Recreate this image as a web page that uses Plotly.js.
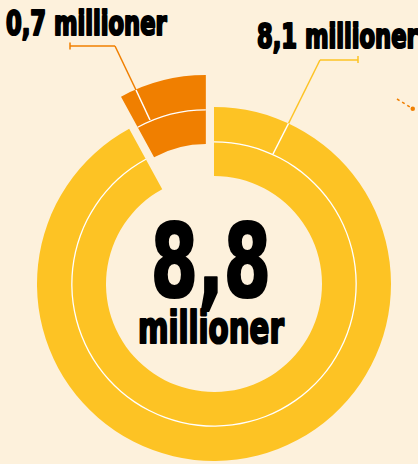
<!DOCTYPE html>
<html>
<head>
<meta charset="utf-8">
<script src="https://cdn.plot.ly/plotly-3.0.1.min.js"></script>
<style>
  html, body { margin: 0; padding: 0; overflow: hidden; background: #fdf1dc; width: 418px; height: 464px; }
  #chart { width: 430px; height: 500px; }
  .annotation-text {
    stroke: #000; stroke-width: 2.2px; stroke-linejoin: round; paint-order: stroke;
    transform-box: fill-box; transform-origin: 50% 50%; transform: scaleX(0.74);
  }
</style>
</head>
<body>
<div id="chart"></div>
<script>
// ---- data ----
var categories = ["Øvrige", "Utvalgte"];
var values = [8.1, 0.7];
var valueLabels = ["8,1 millioner", "0,7 millioner"];
var totalValue = ["8,8"];
var totalUnit = ["millioner"];
var colors = ["#fdc324", "#f07f00"];

// ---- geometry (pixels in the page) ----
var W = 430, H = 500;
var cx = 214, cy = 284;
var rOuter = 177, rHole = 108, rSep = 142.8, sepW = 1.3;
var pullPx = 33;
var bg = "#fdf1dc";

function pie(r, holeFrac, pullAmt, cols, name) {
  var half = r * (1 + pullAmt);
  var yc = H - cy;
  return {
    type: "pie",
    name: name,
    labels: categories,
    values: values,
    sort: false,
    direction: "clockwise",
    rotation: 0,
    hole: holeFrac,
    pull: values.map(function (v, i) { return i === 1 ? pullAmt : 0; }),
    marker: { colors: cols, line: { width: 0 } },
    textinfo: "none",
    hoverinfo: "label+value",
    showlegend: false,
    domain: { x: [(cx - half) / W, (cx + half) / W], y: [(yc - half) / H, (yc + half) / H] }
  };
}

var traces = [
  pie(rOuter, rHole / rOuter, pullPx / rOuter, colors, "ring"),
  pie(rSep, (rSep - sepW) / rSep, pullPx / rSep, ["#ffffff", "#ffffff"], "sep")
];

function px(x) { return x / W; }
function py(y) { return 1 - y / H; }
function seg(x0, y0, x1, y1, col, w, dash) {
  return { type: "line", xref: "paper", yref: "paper", x0: px(x0), y0: py(y0), x1: px(x1), y1: py(y1),
           line: { color: col, width: w, dash: dash || "solid" }, layer: "above" };
}

// leader lines
var shapes = [
  // orange (0,7)
  seg(70, 42.5, 70, 49.5, colors[1], 1.5),
  seg(70, 46, 115, 46, colors[1], 1.5),
  seg(115, 46, 136, 90, colors[1], 1.5),
  seg(136, 90, 150, 120, "#ffffff", 1.5),
  // yellow (8,1)
  seg(358, 56, 358, 63, colors[0], 1.5),
  seg(358, 60, 320, 60, colors[0], 1.5),
  seg(320, 60, 288.5, 123.5, colors[0], 1.5),
  seg(288.5, 123.5, 273, 154, "#ffffff", 1.5),
  // small dotted mark at right edge
  seg(397, 99, 410, 107, colors[1], 1.5, "dot"),
  { type: "circle", xref: "paper", yref: "paper", x0: px(410.5), x1: px(415), y0: py(106.5), y1: py(111),
    fillcolor: colors[1], line: { width: 0 }, layer: "above" }
];

var fam = "'DejaVu Sans Condensed', 'DejaVu Sans', sans-serif";
function ann(text, x, y, size) {
  return { text: text, xref: "paper", yref: "paper", x: px(x), y: py(y), xanchor: "center", yanchor: "middle",
           showarrow: false, font: { family: fam, size: size, color: "#000", weight: 700 } };
}

var centerText = '<span style="font-size:102px">' + totalValue[0] + '</span><br>' +
                 '<span style="font-size:44px">' + totalUnit[0] + '</span>';

var annotations = [
  ann(valueLabels[1], 86.5, 22.5, 34),
  ann(valueLabels[0], 337.5, 36.5, 34),
  ann(centerText, 211.5, 278, 35.4)
];

var layout = {
  width: W, height: H,
  margin: { l: 0, r: 0, t: 0, b: 0 },
  paper_bgcolor: bg,
  plot_bgcolor: bg,
  showlegend: false,
  shapes: shapes,
  annotations: annotations
};

Plotly.newPlot("chart", traces, layout, { displayModeBar: false, staticPlot: true });
</script>
</body>
</html>
